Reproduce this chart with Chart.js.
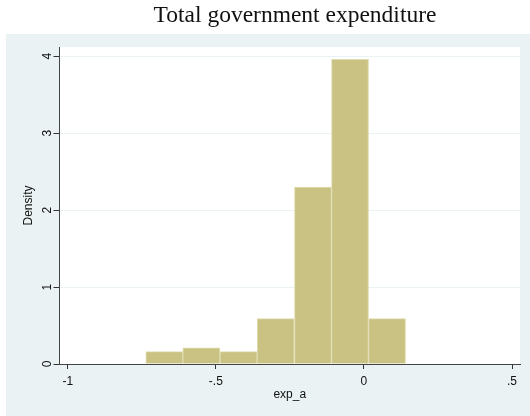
<!DOCTYPE html>
<html>
<head>
<meta charset="utf-8">
<script src="https://cdn.jsdelivr.net/npm/chart.js@4"></script>
<style>
  html, body { margin: 0; padding: 0; background: #fff; }
  canvas { display: block; }
</style>
</head>
<body>
<canvas id="histChart" width="530" height="416"></canvas>
<script>
// histogram data (bin centres of exp_a, density per bin)
const binCenters = [-0.674, -0.549, -0.423, -0.298, -0.172, -0.047, 0.078];
const densities = [0.16, 0.21, 0.16, 0.59, 2.30, 3.96, 0.59];
const xTicks = [-1, -0.5, 0, 0.5];
const yTicks = [0, 1, 2, 3, 4];
const chartTitle = 'Total government expenditure';

const panelColor = '#EAF2F3';
const sans = "'Liberation Sans', Arial, sans-serif";

// Stata style tick labels: -.5 instead of -0.5
function fmtTick(v) {
  return String(v).replace('0.', '.');
}

// Backgrounds and the title
const stataFrame = {
  id: 'stataFrame',
  beforeDraw(chart) {
    const { ctx, chartArea } = chart;
    ctx.save();
    ctx.fillStyle = '#fff';
    ctx.fillRect(0, 0, chart.width, chart.height);
    ctx.fillStyle = panelColor;
    ctx.fillRect(6, 34, chart.width - 6, chart.height - 34);
    ctx.fillStyle = '#fff';
    ctx.fillRect(chartArea.left, chartArea.top, chartArea.right - chartArea.left, chartArea.bottom - chartArea.top);
    ctx.fillStyle = '#111';
    ctx.font = "23.5px 'Liberation Serif', 'Times New Roman', serif";
    ctx.textAlign = 'center';
    ctx.textBaseline = 'middle';
    ctx.fillText(chartTitle, 295, 15.5);
    ctx.restore();
  }
};

const ctx = document.getElementById('histChart').getContext('2d');
const histChart = new Chart(ctx, {
  type: 'bar',
  data: {
    datasets: [{
      label: 'Density',
      data: binCenters.map((c, i) => ({ x: c, y: densities[i] })),
      backgroundColor: 'rgb(202, 194, 130)',
      borderColor: 'rgb(224, 220, 178)',
      borderWidth: 1,
      barPercentage: 1,
      categoryPercentage: 1,
    }],
  },
  options: {
    responsive: false,
    animation: false,
    devicePixelRatio: 1,
    layout: { padding: { top: 47, right: 10, left: 0, bottom: 0 } },
    plugins: {
      legend: { display: false },
      tooltip: { enabled: false },
    },
    scales: {
      x: {
        type: 'linear',
        min: -1.028,
        max: 0.527,
        offset: false,
        afterFit: (scale) => { scale.height = 52; },
        afterBuildTicks: (scale) => { scale.ticks = xTicks.map(v => ({ value: v })); },
        grid: {
          offset: false,
          drawOnChartArea: false,
          tickLength: 5,
          tickColor: '#333',
        },
        border: { color: '#444', width: 1 },
        ticks: {
          color: '#111',
          padding: 5,
          maxRotation: 0,
          font: { family: sans, size: 12 },
          callback: fmtTick,
        },
        title: {
          display: true,
          text: 'exp_a',
          color: '#111',
          font: { family: sans, size: 12 },
          padding: { top: 0, bottom: 14 },
        },
      },
      y: {
        min: 0,
        max: 4.12,
        afterFit: (scale) => { scale.width = 59.5; },
        afterBuildTicks: (scale) => { scale.ticks = yTicks.map(v => ({ value: v })); },
        grid: {
          color: (c) => (c.tick && c.tick.value === 0 ? 'rgba(0,0,0,0)' : panelColor),
          tickLength: 6,
          tickColor: '#333',
        },
        border: { color: '#444', width: 1 },
        ticks: {
          color: '#111',
          padding: 2.5,
          minRotation: 90,
          maxRotation: 90,
          crossAlign: 'center',
          font: { family: sans, size: 12 },
          callback: fmtTick,
        },
        title: {
          display: true,
          text: 'Density',
          color: '#111',
          font: { family: sans, size: 12 },
          padding: { top: 21, bottom: 0 },
        },
      },
    },
  },
  plugins: [stataFrame],
});
</script>
</body>
</html>
